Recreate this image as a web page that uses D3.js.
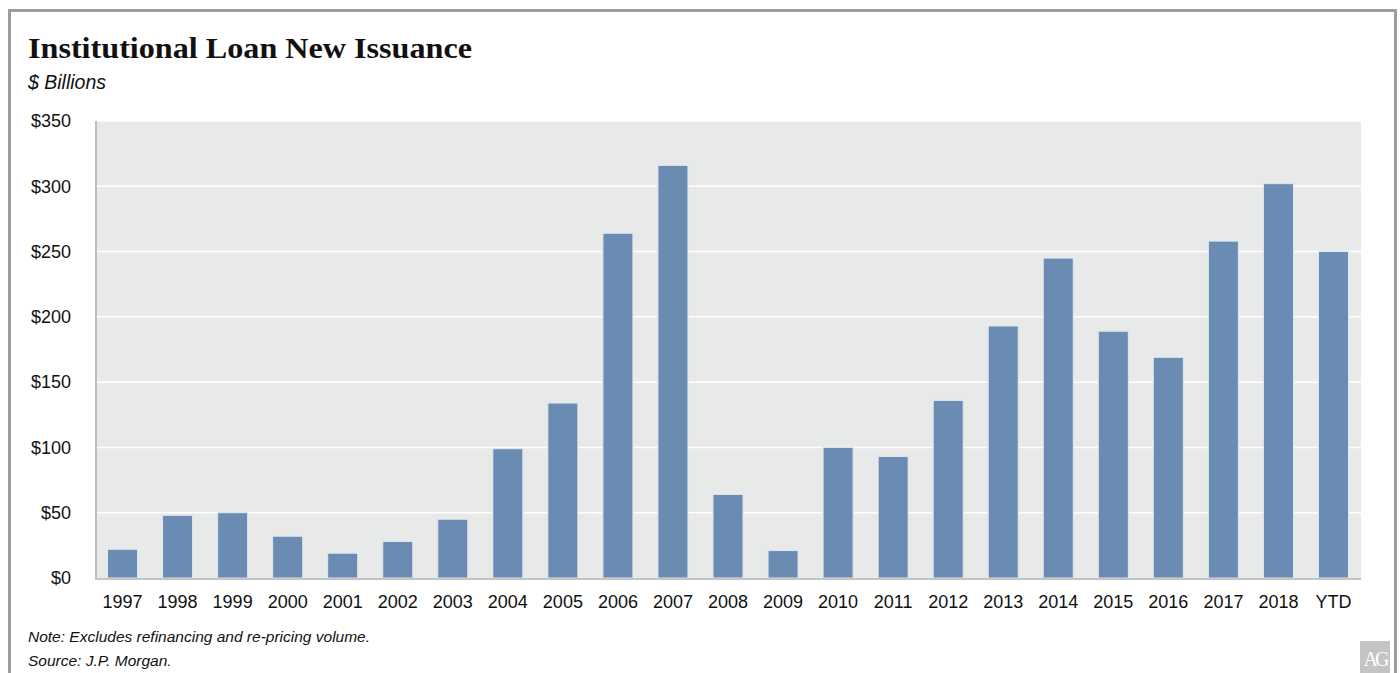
<!DOCTYPE html>
<html>
<head>
<meta charset="utf-8">
<script src="https://cdn.jsdelivr.net/npm/d3@7"></script>
<style>
  body { margin: 0; background: #fff; }
  svg { display: block; }
</style>
</head>
<body>
<div id="chart"></div>
<script>
// Institutional loan new issuance, $ billions
const years  = ['1997','1998','1999','2000','2001','2002','2003','2004','2005','2006','2007','2008',
                '2009','2010','2011','2012','2013','2014','2015','2016','2017','2018','YTD'];
const values = [22, 48, 50, 32, 19, 28, 45, 99, 134, 264, 316, 64,
                21, 100, 93, 136, 193, 245, 189, 169, 258, 302, 250];
const yTicks = [0, 50, 100, 150, 200, 250, 300, 350];

const W = 1400, H = 673;
const margin = { top: 121, right: 39, bottom: 95, left: 95 };

const svg = d3.select('#chart').append('svg')
    .attr('width', W).attr('height', H);

// outer frame
svg.append('path')
    .attr('d', `M9.5,${H} V10.5 H1395.5 V${H}`)
    .attr('fill', 'none').attr('stroke', '#9c9c9c').attr('stroke-width', 3);

// title block
svg.append('text')
    .attr('x', 28).attr('y', 58)
    .attr('font-family', '"Liberation Serif", "DejaVu Serif", serif')
    .attr('font-weight', 'bold').attr('font-size', '30px').attr('fill', '#111')
    .attr('textLength', 444).attr('lengthAdjust', 'spacingAndGlyphs')
    .text('Institutional Loan New Issuance');
svg.append('text')
    .attr('x', 28).attr('y', 89)
    .attr('font-family', '"Liberation Sans", Arial, sans-serif')
    .attr('font-style', 'italic').attr('font-size', '20px').attr('fill', '#111')
    .attr('textLength', 78).attr('lengthAdjust', 'spacingAndGlyphs')
    .text('$ Billions');

const x = d3.scaleBand()
    .domain(years)
    .range([margin.left, W - margin.right])
    .paddingInner(0.455).paddingOuter(0.2275);

const y = d3.scaleLinear()
    .domain([0, 350])
    .range([H - margin.bottom, margin.top]);

// plot background
svg.append('rect')
    .attr('x', margin.left).attr('y', margin.top)
    .attr('width', W - margin.right - margin.left)
    .attr('height', y(0) - margin.top)
    .attr('fill', '#e8e9e9');

// gridlines
svg.append('g').selectAll('line')
    .data(yTicks.filter(d => d > 0))
    .join('line')
    .attr('x1', margin.left).attr('x2', W - margin.right)
    .attr('y1', d => y(d)).attr('y2', d => y(d))
    .attr('stroke', '#fff').attr('stroke-width', 1.5);

// bars
svg.append('g').selectAll('rect')
    .data(years.map((k, i) => ({ k, v: values[i] })))
    .join('rect')
    .attr('x', d => x(d.k))
    .attr('y', d => y(d.v))
    .attr('width', x.bandwidth())
    .attr('height', d => y(0) - y(d.v))
    .attr('fill', '#6a8cb3')
    .attr('stroke', '#dfe6ee').attr('stroke-width', 1);

// axes lines
svg.append('line')
    .attr('x1', margin.left + 1).attr('x2', margin.left + 1)
    .attr('y1', margin.top).attr('y2', y(0) + 1)
    .attr('stroke', '#bdbdbd').attr('stroke-width', 2);
svg.append('line')
    .attr('x1', margin.left).attr('x2', W - margin.right)
    .attr('y1', y(0) + 1).attr('y2', y(0) + 1)
    .attr('stroke', '#c4c4c4').attr('stroke-width', 2);

// y axis labels
svg.append('g')
    .attr('transform', `translate(${margin.left - 21},0)`)
    .call(d3.axisLeft(y).tickValues(yTicks).tickSize(0).tickFormat(d => `$${d}`))
    .call(g => g.select('.domain').remove())
    .call(g => g.selectAll('text')
        .attr('font-family', '"Liberation Sans", Arial, sans-serif')
        .attr('font-size', '18px').attr('fill', '#111'));

// x axis labels
svg.append('g')
    .attr('transform', `translate(0,${y(0) + 14})`)
    .call(d3.axisBottom(x).tickSize(0))
    .call(g => g.select('.domain').remove())
    .call(g => g.selectAll('text')
        .attr('font-family', '"Liberation Sans", Arial, sans-serif')
        .attr('font-size', '18px').attr('fill', '#111'));

// notes
const notes = ['Note: Excludes refinancing and re-pricing volume.', 'Source: J.P. Morgan.'];
svg.append('g').selectAll('text')
    .data(notes)
    .join('text')
    .attr('x', 28).attr('y', (d, i) => 642 + i * 24)
    .attr('font-family', '"Liberation Sans", Arial, sans-serif')
    .attr('font-style', 'italic').attr('font-size', '15.5px').attr('fill', '#111')
    .text(d => d);

// AG mark
svg.append('rect')
    .attr('x', 1360).attr('y', 641).attr('width', 30).attr('height', 32)
    .attr('fill', '#c4c4c4');
svg.append('text')
    .attr('x', 1375).attr('y', 666).attr('text-anchor', 'middle')
    .attr('font-family', '"Liberation Serif", serif')
    .attr('font-size', '20px').attr('fill', '#fff').attr('letter-spacing', '-3px')
    .text('AG');
</script>
</body>
</html>
